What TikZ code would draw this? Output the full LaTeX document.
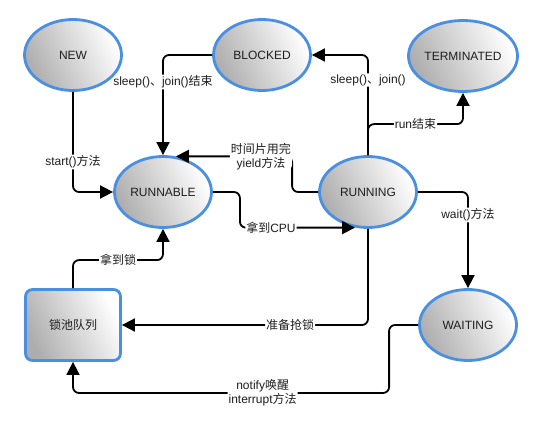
\documentclass[tikz,border=0pt]{standalone}
\usepackage{fontspec}
\setmainfont{Liberation Sans}
\newfontfamily\cjk{Noto Sans CJK SC}
\usetikzlibrary{arrows.meta,shapes.geometric}
\newcommand{\zh}[1]{{\cjk #1}}
\definecolor{stborder}{RGB}{74,144,226}
\definecolor{txt}{RGB}{30,30,30}
\begin{document}
\begin{tikzpicture}[x=1pt,y=-1pt,
  grad/.style={left color=black!32, right color=white, shading angle=115},
  state/.style={ellipse, draw=stborder, line width=2.8pt, minimum width=97pt, minimum height=71pt,
    grad, font=\fontsize{12}{14}\selectfont, text=txt, inner sep=0pt},
  lockbox/.style={rectangle, rounded corners=7pt, draw=stborder, line width=2.8pt, minimum width=95pt,
    minimum height=71pt, grad, font=\fontsize{12}{14}\selectfont, text=txt},
  conn/.style={line width=1.8pt, rounded corners=6pt, -{Triangle[length=13pt,width=13pt]}},
  lbl/.style={fill=white, inner sep=1pt, font=\fontsize{12}{14}\selectfont, text=txt, align=center}
]
\useasboundingbox (0,0) rectangle (542,428);
\fill[white] (0,0) rectangle (542,428);

\node[state] (NEW) at (73,55) {NEW};
\node[state] (BLOCKED) at (262,55) {BLOCKED};
\node[state] (TERM) at (463,56) {TERMINATED};
\node[state] (RUNNABLE) at (163,192) {RUNNABLE};
\node[state] (RUNNING) at (368,192) {RUNNING};
\node[state] (WAITING) at (468,325) {WAITING};
\node[lockbox] (LOCK) at (73,325) {\zh{锁池队列}};

\draw[conn] (NEW.south) |- (RUNNABLE.west) node[lbl,pos=0.35]{start()\zh{方法}};
\draw[conn] (BLOCKED.west) -| (RUNNABLE.north) node[lbl,pos=0.635]{sleep()\zh{、}join()\zh{结束}};
\draw[conn] (RUNNING.west) -- ++(-26,0) |- (RUNNABLE.70) node[lbl,pos=0.634]{\zh{时间片用完}\\yield\zh{方法}};
\draw[conn] (RUNNABLE.east) -- ++(27,0) |- (RUNNING.250) node[lbl,pos=0.635]{\zh{拿到}CPU};
\draw[conn] (RUNNING.north) |- (BLOCKED.east) node[lbl,pos=0.375]{sleep()\zh{、}join()};
\draw[conn] (RUNNING.north) -- ++(0,-31) -| (TERM.south) node[lbl,pos=0.25]{run\zh{结束}};
\draw[conn] (RUNNING.east) -| (WAITING.north) node[lbl,pos=0.62]{wait()\zh{方法}};
\draw[conn] (RUNNING.south) |- (LOCK.east) node[lbl,pos=0.658]{\zh{准备抢锁}};
\draw[conn] (LOCK.north) -- ++(0,-28) -| (RUNNABLE.south) node[lbl,pos=0.25]{\zh{拿到锁}};
\draw[conn] (WAITING.west) -- ++(-29,0) -- ++(0,68) -| (LOCK.south) node[lbl,pos=0.2]{notify\zh{唤醒}\\interrupt\zh{方法}};
\end{tikzpicture}
\end{document}
